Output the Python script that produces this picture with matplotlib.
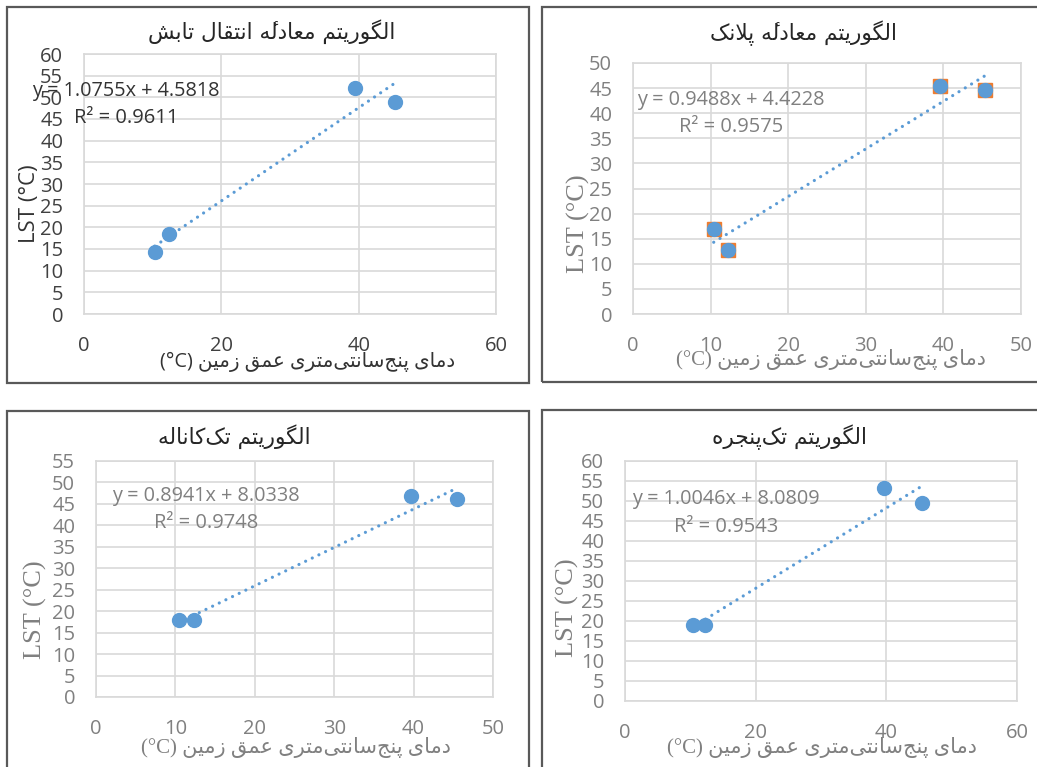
import numpy as np
import matplotlib
matplotlib.use("Agg")
import matplotlib.pyplot as plt
from matplotlib.patches import Rectangle

# ---- data ----
titles = ["الگوریتم معادلهٔ انتقال تابش", "الگوریتم معادلهٔ پلانک",
          "الگوریتم تک‌کاناله", "الگوریتم تک‌پنجره"]
xlabel_fa = "دمای پنج‌سانتی‌متری عمق زمین"

x_rte = [10.3, 12.4, 39.5, 45.3]
y_rte = [14.2, 18.4, 52.1, 49.0]
x_planck = [10.4, 12.3, 39.6, 45.4]
y_planck = [16.9, 12.8, 45.5, 44.7]
x_sc = [10.5, 12.4, 39.7, 45.5]
y_sc = [18.0, 18.0, 46.9, 46.1]
x_sw = [10.4, 12.3, 39.7, 45.5]
y_sw = [19.1, 19.1, 53.3, 49.6]

slopes = [1.0755, 0.9488, 0.8941, 1.0046]
intercepts = [4.5818, 4.4228, 8.0338, 8.0809]
r2 = [0.9611, 0.9575, 0.9748, 0.9543]

xmax = [60, 50, 50, 60]
xstep = [20, 10, 10, 20]
ymax = [60, 50, 55, 60]

W, H = 1037, 767
BLUE = "#5B9BD5"
ORANGE = "#ED7D31"


# matplotlib 3.10 does no Arabic shaping, so do it by hand
FORMS = {
    'ا': ('\uFE8D', '\uFE8E', None, None),
    'ب': ('\uFE8F', '\uFE90', '\uFE91', '\uFE92'),
    'پ': ('\uFB56', '\uFB57', '\uFB58', '\uFB59'),
    'ت': ('\uFE95', '\uFE96', '\uFE97', '\uFE98'),
    'ج': ('\uFE9D', '\uFE9E', '\uFE9F', '\uFEA0'),
    'د': ('\uFEA9', '\uFEAA', None, None),
    'ر': ('\uFEAD', '\uFEAE', None, None),
    'ز': ('\uFEAF', '\uFEB0', None, None),
    'س': ('\uFEB1', '\uFEB2', '\uFEB3', '\uFEB4'),
    'ش': ('\uFEB5', '\uFEB6', '\uFEB7', '\uFEB8'),
    'ع': ('\uFEC9', '\uFECA', '\uFECB', '\uFECC'),
    'ق': ('\uFED5', '\uFED6', '\uFED7', '\uFED8'),
    'ک': ('\uFB8E', '\uFB8F', '\uFB90', '\uFB91'),
    'گ': ('\uFB92', '\uFB93', '\uFB94', '\uFB95'),
    'ل': ('\uFEDD', '\uFEDE', '\uFEDF', '\uFEE0'),
    'م': ('\uFEE1', '\uFEE2', '\uFEE3', '\uFEE4'),
    'ن': ('\uFEE5', '\uFEE6', '\uFEE7', '\uFEE8'),
    'ه': ('\uFEE9', '\uFEEA', '\uFEEB', '\uFEEC'),
    'و': ('\uFEED', '\uFEEE', None, None),
    'ی': ('\uFBFC', '\uFBFD', '\uFBFE', '\uFBFF'),
}
HAMZA_ABOVE = '\u0654'


def dual(c):
    return c in FORMS and FORMS[c][2] is not None


def shape(s):
    out = []
    i = 0
    while i < len(s):
        c = s[i]
        if c == HAMZA_ABOVE:
            # keep the mark right after its base letter in visual order
            out[-1] = out[-1] + c
            i += 1
            continue
        if c not in FORMS:
            if c != '\u200c':
                out.append(c)
            i += 1
            continue
        jp = i > 0 and dual(s[i - 1])
        if c == 'ل' and i + 1 < len(s) and s[i + 1] == 'ا':
            out.append('\uFEFC' if jp else '\uFEFB')
            i += 2
            continue
        jn = dual(c) and i + 1 < len(s) and s[i + 1] in FORMS
        iso, fin, ini, med = FORMS[c]
        out.append(med if (jp and jn) else fin if jp else ini if jn else iso)
        i += 1
    return ''.join(reversed(out))


def fp(x, y):
    return x / W, 1 - y / H


fig = plt.figure(figsize=(W / 100, H / 100), dpi=100)

# chart frames (pixels: left, top, right, bottom)
frames = [(7, 7, 529, 383), (542, 7, 1064, 382), (7, 411, 529, 800), (542, 410, 1064, 800)]
for l, t, r, b in frames:
    fig.add_artist(Rectangle((l / W, 1 - b / H), (r - l) / W, (b - t) / H,
                             transform=fig.transFigure, fill=False,
                             edgecolor="#595959", linewidth=1.6))

# plot areas (pixels: left, top, right, bottom)
boxes = [(84, 54, 496, 314), (633, 63, 1021, 314), (96, 461, 493, 697), (625, 461, 1017, 701)]
xs = [x_rte, x_planck, x_sc, x_sw]
ys = [y_rte, y_planck, y_sc, y_sw]

title_pos = [(272, 32), (804, 33), (234, 437), (789, 437)]
xlab_pos = [(308, 362), (831, 360), (296, 747), (822, 747)]
ylab_pos = [(29, 204), (578, 224), (35, 610), (567, 608)]
eq_pos = [(32, 91), (637, 100), (112, 496), (632, 499)]
r2_pos = [(74, 118), (679, 127), (154, 523), (674, 527)]

for k in range(4):
    l, t, r, b = boxes[k]
    ax = fig.add_axes([l / W, 1 - b / H, (r - l) / W, (b - t) / H])
    first = k == 0
    tick_col = "#404040" if first else "#808080"
    text_col = "#333333" if first else "#808080"

    x = np.array(xs[k])
    y = np.array(ys[k])
    xx = np.array([x.min(), x.max()])
    ax.plot(xx, slopes[k] * xx + intercepts[k], color=BLUE, linewidth=2.3,
            linestyle=(0, (0.01, 2.3)), dash_capstyle="round", zorder=2)
    if k == 1:
        ax.plot(x, y, linestyle="none", marker="s", markersize=9.5,
                color=ORANGE, zorder=3)
    ax.plot(x, y, linestyle="none", marker="o", markersize=10,
            color=BLUE, zorder=4)

    ax.set_xlim(0, xmax[k])
    ax.set_ylim(0, ymax[k])
    ax.set_xticks(np.arange(0, xmax[k] + 1, xstep[k]))
    ax.set_yticks(np.arange(0, ymax[k] + 1, 5))
    ax.grid(True, color="#D9D9D9", linewidth=1.2)
    ax.set_axisbelow(True)
    for sp in ax.spines.values():
        sp.set_color("#D9D9D9")
        sp.set_linewidth(1.2)
    ax.tick_params(length=0, labelsize=14.5, labelcolor=tick_col)
    ax.tick_params(axis="y", pad=15)
    ax.tick_params(axis="x", pad=15.5)
    for lab in ax.get_xticklabels() + ax.get_yticklabels():
        lab.set_family("Open Sans")

    # texts
    fig.text(*fp(*title_pos[k]), shape(titles[k]), ha="center", va="center",
             fontsize=15.6, color="#262626", family="DejaVu Sans")
    lab_family = ["Open Sans", "DejaVu Sans"] if first else ["Liberation Serif", "DejaVu Sans"]
    fig.text(*fp(*xlab_pos[k]), "(°C) " + shape(xlabel_fa), ha="center", va="center",
             fontsize=14.3 if first else 15, color=text_col, family=lab_family)
    fig.text(*fp(*ylab_pos[k]), "LST (°C)", ha="center", va="center", rotation=90,
             fontsize=16 if first else 19, color=text_col,
             family="Open Sans" if first else "Liberation Serif")
    fig.text(*fp(*eq_pos[k]), f"y = {slopes[k]:.4f}x + {intercepts[k]:.4f}",
             ha="left", va="center", fontsize=14.3, color=text_col, family="Open Sans")
    fig.text(*fp(*r2_pos[k]), f"R² = {r2[k]:.4f}",
             ha="left", va="center", fontsize=14.5, color=text_col, family="Open Sans")

fig.savefig("out.png", dpi=100)
